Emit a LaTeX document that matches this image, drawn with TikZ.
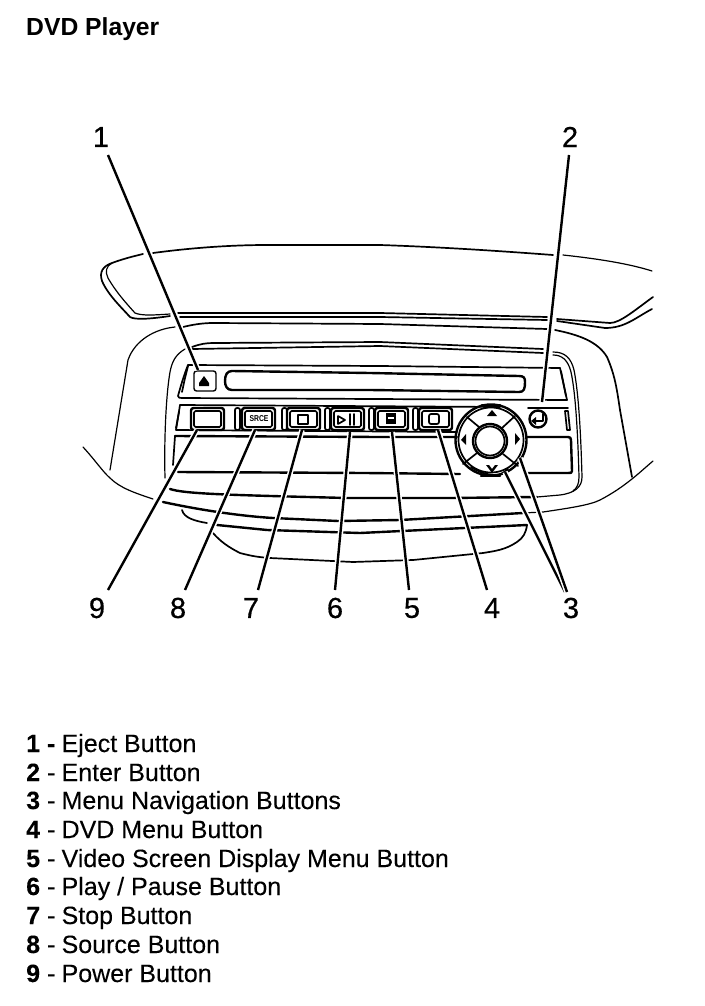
\documentclass[tikz,border=0pt]{standalone}
\usepackage{fontspec}
\setmainfont{Liberation Sans}
\newfontfamily\calloutfont[FakeBold=0.5]{Liberation Sans}
\newfontfamily\legendfont[FakeBold=0.15]{Liberation Sans}
\newcommand{\dashgap}{\kern-0.7pt}
\tikzset{
  thin line/.style={line width=1.2pt,line cap=round,line join=round},
  mid line/.style={line width=1.7pt,line cap=round,line join=round},
  heavy line/.style={line width=2.4pt,line cap=round,line join=round},
  leader/.style={line width=2.4pt,preaction={draw=white,line width=5.5pt}},
  callout/.style={font=\calloutfont\fontsize{29}{29}\selectfont,inner sep=0pt},
  legend/.style={font=\legendfont\fontsize{25}{25}\selectfont,anchor=base west,inner sep=0pt},
  btn/.style={heavy line,rounded corners=2.5pt},
  pill/.style={mid line,rounded corners=2pt},
}
\newcommand{\panelbutton}[2]{%
  \draw[btn] (#1,408) rectangle (#1+33,430);
  \draw[mid line,rounded corners=1.5pt] (#1+3,411) rectangle (#1+30,427);
  \draw[pill] (#1+#2,408) rectangle (#1+#2+5,430);
}
\begin{document}
\begin{tikzpicture}[x=1pt,y=-1pt]
\useasboundingbox (0,0) rectangle (704,1006);
\fill[white] (0,0) rectangle (704,1006);
% visor
\draw[mid line] (153,253) .. controls (190,248) and (230,245) .. (267,245) -- (380,245) .. controls (440,247) and (500,251) .. (553,255);
\draw[thin line] (563,255) .. controls (600,259) and (630,264) .. (652,271);
\draw[mid line] (143,254) .. controls (130,257) and (120,260) .. (112,263) .. controls (103,266) and (99,272) .. (102,281) .. controls (108,295) and (122,308) .. (130,317) .. controls (135,320) and (150,319) .. (170,316);
\draw[thin line] (112,263) .. controls (106,266) and (105,272) .. (108,278) .. controls (116,292) and (126,303) .. (135,313) .. controls (142,316) and (155,315) .. (170,314);
\draw[mid line] (178,313) -- (380,313) -- (547,317);
\draw[mid line] (180,317) -- (380,317) -- (547,320);
\draw[mid line] (557,319) -- (610,323) .. controls (620,323) and (635,310) .. (653,297);
\draw[mid line] (557,321) -- (605,328) .. controls (625,328) and (635,318) .. (652,309);
\draw[mid line] (183,327) .. controls (195,324) and (205,323) .. (213,323) -- (380,324) -- (547,329);
% side shells
\draw[thin line] (175,327) .. controls (155,329) and (135,340) .. (128,360) -- (110,470);
\draw[mid line] (555,330) .. controls (580,335) and (598,342) .. (607,357) .. controls (615,375) and (617,390) .. (620,410) -- (632,477);
\draw[mid line] (192,347) .. controls (200,344) and (206,343) .. (213,343) -- (380,342) -- (543,349);
\draw[mid line] (192,349) -- (380,346) -- (543,353);
\draw[thin line] (185,349) .. controls (175,355) and (172,362) .. (170,372) .. controls (166,395) and (164,440) .. (165,478);
\draw[thin line] (553,352) .. controls (565,352) and (571,358) .. (574,370) .. controls (579,395) and (581,440) .. (582,477) .. controls (582,487) and (575,493) .. (560,495) -- (537,497);
\draw[thin line] (553,355) .. controls (562,355) and (568,360) .. (571,372) .. controls (576,395) and (578,440) .. (579,477) .. controls (579,484) and (577,488) .. (573,491);
% slot panel
\draw[mid line] (188,365) -- (380,366) -- (560,368);
\draw[mid line] (188,365) .. controls (184,375) and (181,385) .. (178,396) .. controls (178,398) and (180,398) .. (182,398) -- (567,400);
\draw[mid line] (560,368) -- (567,400);
\draw[mid line] (188,366) -- (185,378) -- (182,392);
\draw[mid line] (561,371) -- (566,396);
\draw[btn,line width=1.4pt] (194,371) rectangle (216,391);
\fill (204,376) -- (209,383) -- (209,386) -- (199,386) -- (199,383) -- cycle;
\draw[heavy line] (232,371) -- (370,373) -- (519,376) .. controls (524,376) and (525,378) .. (525,382) .. controls (525,389) and (524,392) .. (519,392) -- (370,390) -- (232,390) .. controls (227,390) and (225,386) .. (225,381) .. controls (225,375) and (227,371) .. (232,371);
% button row
\draw[mid line] (180,405) -- (500,407);
\draw[mid line] (528,408) -- (568,408);
\draw[mid line] (565,411) -- (568,411) -- (570,430) -- (567,430) -- cycle;
\draw[mid line] (180,405) -- (176,430) -- (457,432);
\draw[mid line] (179,412) -- (176,428);
\panelbutton{191}{44}
\panelbutton{242}{40}
\panelbutton{287}{38}
\panelbutton{331}{38}
\panelbutton{375}{38}
\draw[btn] (419,408) rectangle (452,430);
\draw[mid line,rounded corners=1.5pt] (422,411) rectangle (449,427);
\node[font=\bfseries\fontsize{8.5}{8.5}\selectfont,inner sep=0pt,xscale=.8] (srcetext) at (259,419) {SRCE};
\draw[mid line] (298,415) rectangle (308,424);
\draw[mid line] (338,416) -- (345,420) -- (338,424) -- cycle;
\draw[mid line] (350,414) -- (350,425);
\draw[mid line] (354,414) -- (354,425);
\fill (386,413) rectangle (396,424);
\fill[white] (388,417) rectangle (394,418.5);
\draw[mid line,rounded corners=2pt] (429,414) rectangle (439,424);
% dial
\draw[heavy line] (491,440) circle[radius=35.5];
\draw[mid line] (491,440) circle[radius=32.5];
\draw[heavy line] (490,441) circle[radius=17];
\draw[mid line] (490,441) circle[radius=14.5];
\draw[mid line] (479,427) -- (467,417);
\draw[mid line] (502,428) -- (515,416);
\draw[mid line] (477,453) -- (463,464);
\draw[mid line] (503,454) -- (518,466);
\draw[mid line] (471,467) .. controls (478,472) and (490,476) .. (500,475) -- (508,469);
\draw[heavy line] (482,405) -- (500,405);
\draw[heavy line] (481,476) -- (500,476);
\fill (492,410) -- (497,416) -- (487,416) -- cycle;
\fill (492,473) -- (486,465) -- (489,465) -- (492,469) -- (495,465) -- (498,465) -- cycle;
\fill (466,434) -- (466,445) -- (461,440) -- cycle;
\fill (515,433) -- (520,439) -- (515,445) -- cycle;
% enter
\draw[heavy line] (538,419) circle[radius=8.5];
\draw[heavy line] (543,414) -- (543,421) -- (534,421);
\fill (531,421) -- (536,417) -- (536,425) -- cycle;
% lower panel
\draw[heavy line] (175,436) -- (380,437) -- (457,437);
\draw[heavy line] (527,437) -- (568,437) .. controls (570,437) and (571,438) .. (571,440) -- (572,471) .. controls (572,473) and (571,473) .. (568,473) -- (525,473);
\draw[mid line] (175,436) -- (173,465);
\draw[heavy line] (178,472) -- (365,473) -- (460,474);
\draw[heavy line] (170,489) .. controls (185,494) and (230,495) .. (347,498) -- (450,498) -- (537,497);
\draw[heavy line] (163,502) .. controls (200,510) and (240,516) .. (273,518) -- (338,521) -- (400,520) -- (523,513);
\draw[thin line] (523,513) -- (543,512) .. controls (570,508) and (590,505) .. (600,500) .. controls (625,487) and (640,472) .. (653,461);
\draw[thin line] (83,447) .. controls (95,460) and (103,472) .. (110,478) .. controls (120,488) and (135,493) .. (153,499);
\draw[mid line] (182,510) .. controls (184,518) and (195,521) .. (207,523);
\draw[heavy line] (217,525) -- (267,530) -- (360,533) -- (527,525);
\draw[mid line] (527,525) .. controls (526,533) and (523,538) .. (517,542) .. controls (505,550) and (495,551) .. (483,553) -- (413,560) -- (353,562) -- (270,558) .. controls (255,557) and (248,555) .. (240,553) .. controls (228,547) and (220,541) .. (213,533);
% callouts
\node[callout] (n1) at (101,137) {1};
\node[callout] (n2) at (570,137) {2};
\node[callout] (n3) at (571,608) {3};
\node[callout] (n4) at (492,608) {4};
\node[callout] (n5) at (412,608) {5};
\node[callout] (n6) at (335,608) {6};
\node[callout] (n7) at (251,608) {7};
\node[callout] (n8) at (178,608) {8};
\node[callout] (n9) at (97,608) {9};
\coordinate (s1) at (108,155);
\coordinate (s2) at (569,155);
\coordinate (s3a) at (565,592);
\coordinate (s3b) at (567,592);
\coordinate (s4) at (487,590);
\coordinate (s5) at (409,590);
\coordinate (s6) at (335,590);
\coordinate (s7) at (258,590);
\coordinate (s8) at (185,590);
\coordinate (s9) at (108,590);
\coordinate (t1) at (198,370);
\coordinate (t2) at (542,402);
\coordinate (t3a) at (505,472);
\coordinate (t3b) at (520,458);
\coordinate (t4) at (438,430);
\coordinate (t5) at (392,432);
\coordinate (t6) at (350,432);
\coordinate (t7) at (302,430);
\coordinate (t8) at (255,430);
\coordinate (t9) at (197,430);
\foreach \a/\b in {s1/t1,s2/t2,s3a/t3a,s3b/t3b,s4/t4,s5/t5,s6/t6,s7/t7,s8/t8,s9/t9}
  \draw[leader] (\a) -- (\b);
% title and legend
\node[font=\bfseries\fontsize{24.7}{24.7}\selectfont,anchor=base west,inner sep=0pt] (title) at (26,36) {DVD Player};
\node[legend] (l1) at (26,752) {\textbf{1 -}\dashgap{} Eject Button};
\node[legend] (l2) at (26,781) {\textbf{2} -\dashgap{} Enter Button};
\node[legend] (l3) at (26,809) {\textbf{3} -\dashgap{} Menu Navigation Buttons};
\node[legend] (l4) at (26,838) {\textbf{4} -\dashgap{} DVD Menu Button};
\node[legend] (l5) at (26,867) {\textbf{5} -\dashgap{} Video Screen Display Menu Button};
\node[legend] (l6) at (26,895) {\textbf{6} -\dashgap{} Play / Pause Button};
\node[legend] (l7) at (26,924) {\textbf{7} -\dashgap{} Stop Button};
\node[legend] (l8) at (26,953) {\textbf{8} -\dashgap{} Source Button};
\node[legend] (l9) at (26,982) {\textbf{9} -\dashgap{} Power Button};
\end{tikzpicture}
\end{document}
